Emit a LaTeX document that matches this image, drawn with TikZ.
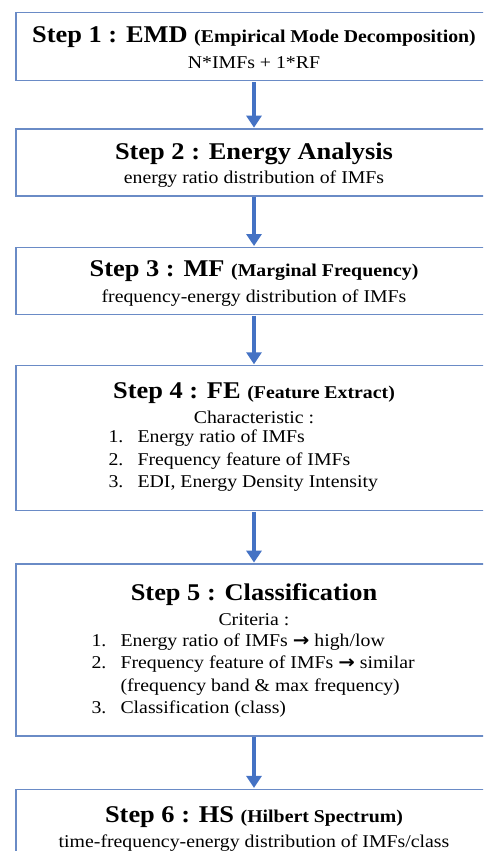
\documentclass[tikz,border=0pt]{standalone}
\usepackage{fontspec}
\setmainfont[FakeStretch=1.1]{Liberation Serif}
\newfontfamily\symfont[FakeStretch=1.1]{DejaVu Sans}
\usepackage{xcolor}
\definecolor{cFrame}{HTML}{6A8BC6}
\definecolor{cArrow}{HTML}{4472C4}
\usetikzlibrary{positioning,arrows.meta}
\tikzset{
  stepbox/.style={draw=cFrame,line width=1.3pt,minimum width=476pt,
    inner sep=0pt},
  steptitle/.style={anchor=base,font=\fontsize{24}{28}\selectfont\bfseries},
  stepbody/.style={anchor=base,font=\fontsize{18}{22}\selectfont},
  steplist/.style={anchor=base west,font=\fontsize{18}{22.4}\selectfont,
    inner sep=0pt},
  steparrow/.style={-{Triangle[width=15pt,length=12pt]},line width=4pt,
    draw=cArrow,shorten >=0.6pt,shorten <=0.6pt},
}
\newcommand{\paren}[1]{{\fontsize{18}{22}\selectfont #1}}
\newcommand{\toarrow}{{\symfont\bfseries\fontsize{18}{22}\selectfont →}}
\newcommand{\itm}[1]{\makebox[29pt][l]{#1}}

\begin{document}
\begin{tikzpicture}[x=1pt,y=1pt,node distance=50pt]
  \useasboundingbox (0,0) rectangle (483,-851);
  \clip (0,0) rectangle (483,-851);
  % boxes
  \node[stepbox,minimum height=68pt,anchor=north] (s1) at (254,-12) {};
  \node[stepbox,minimum height=67pt,below=47pt of s1] (s2) {};
  \node[stepbox,minimum height=67pt,below=50pt of s2] (s3) {};
  \node[stepbox,minimum height=145pt,below=50pt of s3] (s4) {};
  \node[stepbox,minimum height=172pt,below=52pt of s4] (s5) {};
  \node[stepbox,minimum height=80pt,below=52pt of s5] (s6) {};
  % step 1
  \node[steptitle] (t1) at ([yshift=-31pt]s1.north)
    {Step 1 : EMD \paren{(Empirical Mode Decomposition)}};
  \node[stepbody] (b1) at ([yshift=-56pt]s1.north) {N*IMFs + 1*RF};
  % step 2
  \node[steptitle] (t2) at ([yshift=-31pt]s2.north) {Step 2 : Energy Analysis};
  \node[stepbody] (b2) at ([yshift=-55pt]s2.north)
    {energy ratio distribution of IMFs};
  % step 3
  \node[steptitle] (t3) at ([yshift=-30pt]s3.north)
    {Step 3 : MF \paren{(Marginal Frequency)}};
  \node[stepbody] (b3) at ([yshift=-56pt]s3.north)
    {frequency-energy distribution of IMFs};
  % step 4
  \node[steptitle] (t4) at ([yshift=-34pt]s4.north)
    {Step 4 : FE \paren{(Feature Extract)}};
  \node[stepbody] (c4) at ([yshift=-59pt]s4.north) {Characteristic :};
  \node[steplist] (l4) at ([xshift=93pt,yshift=-78pt]s4.north west)
    {\begin{tabular}[t]{@{}l@{}}
      \itm{1.}Energy ratio of IMFs\\
      \itm{2.}Frequency feature of IMFs\\
      \itm{3.}EDI, Energy Density Intensity
    \end{tabular}};
  % step 5
  \node[steptitle] (t5) at ([yshift=-37pt]s5.north) {Step 5 : Classification};
  \node[stepbody] (c5) at ([yshift=-62pt]s5.north) {Criteria :};
  \node[steplist] (l5) at ([xshift=76pt,yshift=-83pt]s5.north west)
    {\begin{tabular}[t]{@{}l@{}}
      \itm{1.}Energy ratio of IMFs \toarrow{} high/low\\
      \itm{2.}Frequency feature of IMFs \toarrow{} similar\\
      \itm{}(frequency band \& max frequency)\\
      \itm{3.}Classification (class)
    \end{tabular}};
  % step 6
  \node[steptitle] (t6) at ([yshift=-34pt]s6.north)
    {Step 6 : HS \paren{(Hilbert Spectrum)}};
  \node[stepbody] (b6) at ([yshift=-59pt]s6.north)
    {time-frequency-energy distribution of IMFs/class};
  % arrows
  \foreach \a/\b in {s1/s2,s2/s3,s3/s4,s4/s5,s5/s6}
    \draw[steparrow] (\a) -- (\b);
\end{tikzpicture}
\end{document}
